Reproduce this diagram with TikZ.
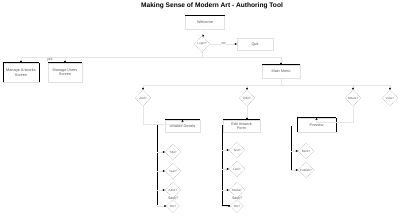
\documentclass[tikz,border=0pt]{standalone}
\usepackage{fontspec}
\setmainfont{Liberation Sans}
\usetikzlibrary{shapes.geometric,arrows.meta}
\begin{document}
\begin{tikzpicture}[x=1pt,y=-1pt,
  every node/.style={font=\fontsize{3.8}{4.4}\selectfont, text=black!65, inner sep=0.5pt},
  taskbox/.style={draw=black!12, line width=0.2pt, align=center},
  decision/.style={diamond, draw=black!45, line width=0.25pt, dash pattern=on 0.8pt off 0.8pt,
    minimum width=16pt, minimum height=16pt, inner sep=0pt, font=\fontsize{3}{3.5}\selectfont},
  link/.style={draw=black!10, line width=0.15pt, -{Stealth[length=2.2pt,width=2pt,black]}},
  plainlink/.style={draw=black!10, line width=0.15pt},
  spine/.style={line width=0.7pt, black},
  toprule/.style={line width=0.8pt, black},
  lbl/.style={font=\fontsize{3.5}{4}\selectfont, text=black!70}]
\useasboundingbox (0,0) rectangle (400,216);
\fill[white] (0,0) rectangle (400,216);

\node[font=\bfseries\fontsize{6.6}{7}\selectfont, text=black] (title) at (212,6) {Making Sense of Modern Art - Authoring Tool};

% top
\node[taskbox, minimum width=39pt, minimum height=14pt] (welcome) at (205,22.5) {Welcome};
\node[decision] (login) at (202,44) {Login?};
\node[taskbox, minimum width=36pt, minimum height=12pt] (quit) at (255,44) {Quit};

% second level
\node[taskbox, minimum width=36pt, minimum height=19pt] (artworks) at (21,72.5) {Manage Artworks\\Screen};
\node[taskbox, minimum width=34pt, minimum height=19pt] (users) at (65,72.5) {Manage Users\\Screen};
\node[taskbox, minimum width=38pt, minimum height=13pt] (menu) at (281,71.5) {Main Menu};
\coordinate (split) at (202,57);
\coordinate (rowsplit) at (281,85);

% row of decisions
\node[decision] (d1) at (143,98) {Add?};
\node[decision] (d2) at (247,98) {Edit?};
\node[decision] (d3) at (353,98) {Delete?};
\node[decision] (d4) at (390,98) {View?};

% sub boxes
\node[taskbox, minimum width=35pt, minimum height=12pt] (b1) at (182.5,126) {Artwork Details};
\node[taskbox, minimum width=37pt, minimum height=12pt] (b2) at (241.5,126) {Edit Artwork\\Form};
\node[taskbox, minimum width=39pt, minimum height=14pt] (b3) at (316.5,125) {Preview};

% left column
\coordinate (s1top) at (157,125);
\coordinate (s1bot) at (157,205);
\node[decision] (e1) at (173,152) {Title?};
\node[decision] (e2) at (173,171) {Year?};
\node[decision] (e3) at (173,190) {Artist?};
\node[decision, minimum width=13pt, minimum height=13pt, label={[lbl, yshift=-0.5pt]above:Save?}] (e4) at (173,206) {OK?};

% middle column
\coordinate (s2top) at (222,125);
\coordinate (s2bot) at (222,205);
\node[decision] (f1) at (237,150) {Text?};
\node[decision] (f2) at (237,169) {Link?};
\node[decision] (f3) at (237,190) {Media?};
\node[decision, minimum width=13pt, minimum height=13pt, label={[lbl, yshift=-0.5pt]above:Save?}] (f4) at (237,206) {OK?};

% right column
\coordinate (s3top) at (291,126);
\coordinate (s3bot) at (291,170);
\node[decision] (g1) at (306,151) {Back?};
\node[decision] (g2) at (306,170) {Publish?};

% top rules of boxes
\foreach \n in {welcome,artworks,users,menu,b1,b2,b3}
  \draw[toprule] (\n.north west) -- (\n.north east);
\draw[line width=0.5pt] (artworks.north west) -- (artworks.south west) (artworks.north east) -- (artworks.south east);
\draw[line width=0.5pt] (b3.north west) -- (b3.south west) (b3.north east) -- (b3.south east);

% connectors
\draw[link] (welcome) -- (login);
\draw[link] (login) -- node[lbl, fill=white]{no} (quit);
\draw[plainlink] (login.south) -- (split);
\draw[link] (split) -| node[lbl, pos=0.42, below=1pt]{yes} (artworks.north);
\draw[link] (split) -| (users.north);
\draw[link] (split) -| (menu.north);
\draw[plainlink] (menu.south) -- (rowsplit);
\draw[link] (rowsplit) -| (d1.north);
\draw[link] (rowsplit) -| (d2.north);
\draw[link] (rowsplit) -| (d3.north);
\draw[link] (rowsplit) -| (d4.north);
\draw[link] (d1.south) |- ([yshift=-4pt]b1.north) -- (b1.north);
\draw[link] (d2.south) -- (d2.south |- b2.north);
\draw[link] (d3.south) |- ([yshift=-4pt]b3.north) -- (b3.north);

% spines
\draw[spine] (s1top) -- (s1bot);
\draw[spine] (s2top) -- (s2bot) -- ++(8,0);
\draw[spine] (s3top) -- (s3bot);
\foreach \n in {e1,e2,e3,e4} \draw[link] (\n.west -| s1top) -- (\n.west);
\foreach \n in {f1,f2,f3,f4} \draw[link] (\n.west -| s2top) -- (\n.west);
\foreach \n in {g1,g2} \draw[link] (\n.west -| s3top) -- (\n.west);
\end{tikzpicture}
\end{document}
